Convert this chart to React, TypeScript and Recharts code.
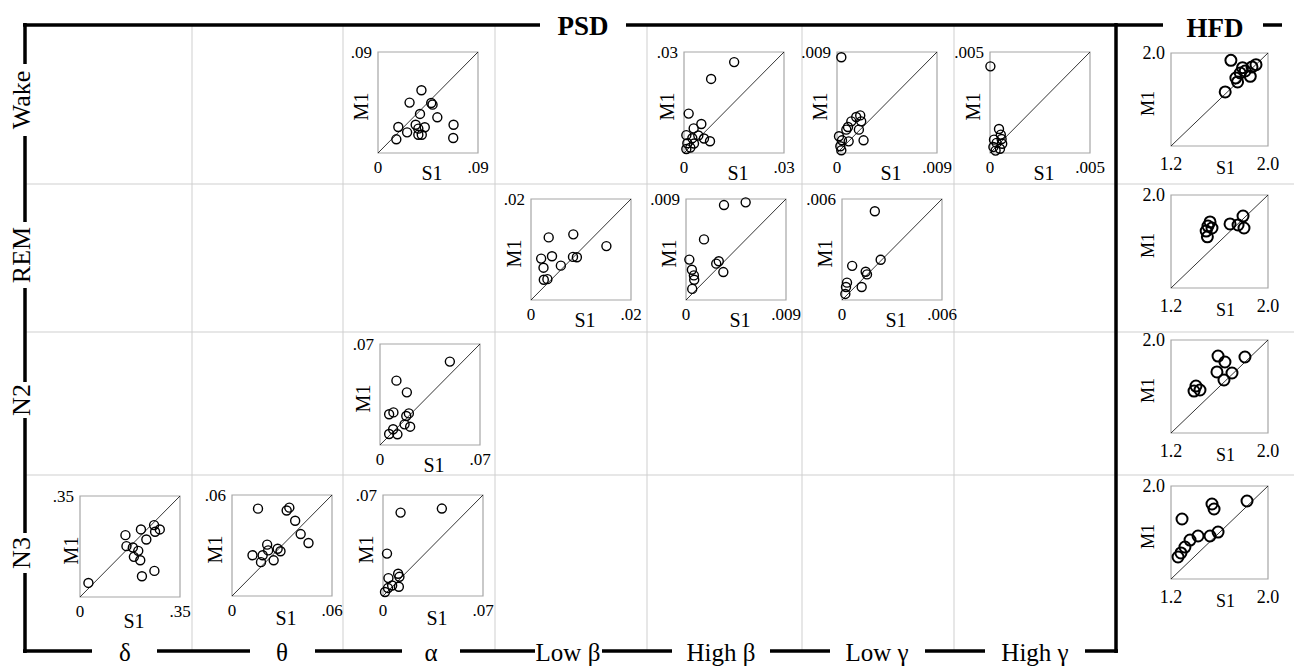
import { ScatterChart, Scatter, XAxis, YAxis, ReferenceArea, ReferenceLine } from 'recharts'

// each pair is [S1, M1]
const wakeAlpha = [[.0391, .0559], [.0284, .0449], [.0479, .0446], [.0491, .0431], [.0378, .0348], [.0534, .0318], [.0183, .0232], [.0339, .0252], [.0421, .0229], [.0363, .0217], [.0262, .0184], [.0363, .0163], [.0394, .0163], [.0680, .0252], [.0677, .0134], [.0165, .0122]]
const wakeHighBeta = [[.01505, .0270], [.00813, .0220], [.0014, .0117], [.0052, .0086], [.0029, .0073], [.0007, .0053], [.0025, .0044], [.0043, .0052], [.0060, .0043], [.0078, .0035], [.0010, .0029], [.0030, .0028], [.0019, .0016], [.0007, .0012]]
const wakeLowGamma = [[.00039, .00853], [.00173, .00321], [.00209, .00335], [.00218, .00282], [.00129, .00282], [.00099, .00232], [.00084, .00208], [.00197, .00208], [.00239, .00113], [.00105, .00104], [.00018, .00149], [.00045, .00113], [.0003, .0006], [.00039, .00024]]
const wakeHighGamma = [[.00002, .00429], [.00045, .00119], [.00054, .00091], [.0002, .00066], [.00058, .00069], [.00033, .0005], [.00061, .00046], [.00017, .0003], [.0005, .00021], [.00028, .00012]]
const wakeHfd = [[1.694, 1.937], [1.790, 1.874], [1.901, 1.900], [1.868, 1.880], [1.812, 1.845], [1.771, 1.828], [1.854, 1.799], [1.735, 1.785], [1.749, 1.751], [1.647, 1.665]]

const remLowBeta = [[.00354, .0124], [.00846, .0130], [.01508, .01067], [.00203, .0082], [.0042, .00867], [.0025, .0064], [.00597, .0068], [.0084, .00853], [.00918, .00847], [.00256, .004], [.00328, .00413]]
const remHighBeta = [[.00342, .00846], [.00537, .0087], [.00162, .0054], [.0003, .0036], [.00053, .0027], [.00071, .00219], [.00074, .0018], [.00056, .00099], [.00272, .00324], [.00295, .00345], [.00336, .00249]]
const remLowGamma = [[.00197, .00527], [.00232, .00239], [.00061, .00203], [.00142, .00168], [.0015, .00152], [.00118, .00077], [.0003, .00103], [.00024, .00077], [.0002, .00036]]
const remHfd = [[1.522, 1.768], [1.538, 1.716], [1.687, 1.751], [1.794, 1.819], [1.802, 1.716], [1.753, 1.742], [1.49, 1.690], [1.50, 1.640], [1.505, 1.733]]

const n2Alpha = [[.0489, .0578], [.0115, .0446], [.0188, .0365], [.0064, .0213], [.0094, .0226], [.0202, .0219], [.0184, .0201], [.0172, .0143], [.0211, .0127], [.0092, .0109], [.0064, .0076], [.0122, .0074]]
const n2Hfd = [[1.588, 1.862], [1.810, 1.854], [1.645, 1.811], [1.579, 1.725], [1.703, 1.716], [1.637, 1.656], [1.406, 1.604], [1.439, 1.570], [1.390, 1.561]]

const n3Delta = [[.0295, .0487], [.159, .2144], [.2133, .2341], [.2593, .2492], [.2793, .2341], [.2628, .226], [.2322, .1993], [.1626, .1762], [.185, .1715], [.2039, .1599], [.1886, .1391], [.2109, .1275], [.2168, .0719], [.2604, .0904]]
const n3Theta = [[.0156, .0519], [.0328, .0508], [.0344, .0525], [.0379, .0447], [.0412, .0368], [.0459, .0315], [.0211, .0305], [.0217, .0271], [.0274, .0281], [.0291, .0266], [.0123, .0242], [.0184, .0242], [.025, .0212], [.0174, .0201]]
const n3Alpha = [[.0123, .0578], [.0412, .0606], [.0028, .0294], [.0106, .0154], [.0115, .0133], [.0038, .0124], [.0064, .0073], [.0111, .0064], [.0035, .0055], [.0014, .0028]]
const n3Hfd = [[1.827, 1.871], [1.538, 1.845], [1.555, 1.802], [1.291, 1.716], [1.588, 1.604], [1.522, 1.570], [1.423, 1.570], [1.357, 1.535], [1.315, 1.475], [1.282, 1.424], [1.258, 1.389]]

const rowNames = ['Wake', 'REM', 'N2', 'N3']
const bandNames = ['δ', 'θ', 'α', 'Low β', 'High β', 'Low γ', 'High γ']

const SERIF = 'Liberation Serif, Times New Roman, serif'

// panel layout: box position in the page
const panels = [
  { pts: wakeAlpha, lo: 0, hi: 0.09, x: 378, y: 52 },
  { pts: wakeHighBeta, lo: 0, hi: 0.03, x: 684, y: 52 },
  { pts: wakeLowGamma, lo: 0, hi: 0.009, x: 837, y: 52 },
  { pts: wakeHighGamma, lo: 0, hi: 0.005, x: 990, y: 52 },
  { pts: wakeHfd, lo: 1.2, hi: 2.0, x: 1171, y: 53, hfd: true },
  { pts: remLowBeta, lo: 0, hi: 0.02, x: 531, y: 199 },
  { pts: remHighBeta, lo: 0, hi: 0.009, x: 686, y: 199 },
  { pts: remLowGamma, lo: 0, hi: 0.006, x: 842, y: 199 },
  { pts: remHfd, lo: 1.2, hi: 2.0, x: 1171, y: 195, hfd: true },
  { pts: n2Alpha, lo: 0, hi: 0.07, x: 380, y: 344 },
  { pts: n2Hfd, lo: 1.2, hi: 2.0, x: 1171, y: 340, hfd: true },
  { pts: n3Delta, lo: 0, hi: 0.35, x: 80, y: 496, m1dx: -9, s1dy: 4 },
  { pts: n3Theta, lo: 0, hi: 0.06, x: 232, y: 495, s1dy: 2 },
  { pts: n3Alpha, lo: 0, hi: 0.07, x: 383, y: 495, s1dy: 2 },
  { pts: n3Hfd, lo: 1.2, hi: 2.0, x: 1171, y: 486, hfd: true },
]

const colLines = [192, 343, 495, 647, 802, 954]
const rowLines = [184, 332, 475]
const rowLabelY = [100, 255, 400, 553]
const rowGaps = [[64, 136], [222, 288], [382, 418], [533, 573]]
const bandX = [125, 282, 431, 568, 721, 877, 1035]
const bandGaps = [[92, 157], [250, 315], [402, 460], [535, 602], [672, 770], [830, 925], [985, 1085]]

function segs(from: number, to: number, gaps: number[][]) {
  const out: number[][] = []
  let cur = from
  gaps.forEach(([a, b]) => { out.push([cur, a]); cur = b })
  out.push([cur, to])
  return out
}

function Panel({ pts, lo, hi, x, y, hfd, m1dx, s1dy }: any) {
  const w = hfd ? 97 : 100
  const h = hfd ? 93 : 101
  const padL = 48, padT = 14, padR = 26, padB = 38
  const fs = hfd ? 18 : 17
  const ls = hfd ? 18 : 20
  const data = pts.map(([s1, m1]: number[]) => ({ s1, m1 }))
  const fmt = (v: number) => hfd ? v.toFixed(1) : v === 0 ? '0' : String(v).replace(/^0/, '')
  const tick = { fill: '#000', fontSize: fs, fontFamily: SERIF }
  return (
    <div style={{ position: 'absolute', left: x - padL, top: y - padT }}>
      <ScatterChart width={w + padL + padR} height={h + padT + padB} margin={{ top: padT, right: padR, bottom: 0, left: 0 }}>
        <XAxis type="number" dataKey="s1" domain={[lo, hi]} ticks={[lo, hi]} interval={0} tickFormatter={fmt}
          axisLine={false} tickLine={false} height={padB} tick={tick} tickMargin={hfd ? 5 : 2}
          label={(p: any) => {
            const vb = p.viewBox
            return <text x={vb.x + vb.width / 2 + (hfd ? 6 : 4)} y={vb.y + (hfd ? 28 : 27) + (s1dy || 0)} textAnchor="middle" fontSize={ls} fontFamily={SERIF} fill="#000">S1</text>
          }} />
        <YAxis type="number" dataKey="m1" domain={[lo, hi]} ticks={[hi]} interval={0} tickFormatter={fmt}
          axisLine={false} tickLine={false} width={padL} tick={tick} tickMargin={0}
          label={(p: any) => {
            const vb = p.viewBox
            const cx = vb.x + vb.width + (m1dx || (hfd ? -23 : -17))
            const cy = vb.y + vb.height / 2 + 4
            return <text x={cx} y={cy} transform={`rotate(-90 ${cx} ${cy})`} textAnchor="middle" dominantBaseline="central" fontSize={ls} fontFamily={SERIF} fill="#000">M1</text>
          }} />
        <ReferenceArea x1={lo} x2={hi} y1={lo} y2={hi} fill="none" fillOpacity={0} stroke="#a6a6a6" strokeWidth={1.2} />
        <ReferenceLine segment={[{ x: lo, y: lo }, { x: hi, y: hi }]} stroke="#000" strokeWidth={0.8} />
        <Scatter data={data} isAnimationActive={false}
          shape={(p: any) => <circle cx={p.cx} cy={p.cy} r={hfd ? 5.5 : 4.5} fill="none" stroke="#000" strokeWidth={hfd ? 2 : 1.4} />} />
      </ScatterChart>
    </div>
  )
}

export default function App() {
  return (
    <div style={{ position: 'absolute', left: 0, top: 0, width: 1294, height: 667, background: '#fff', overflow: 'hidden', fontFamily: SERIF }}>
      <svg width={1294} height={667} style={{ position: 'absolute', left: 0, top: 0 }} fontFamily={SERIF}>
        {colLines.map(cx => <line key={cx} x1={cx} x2={cx} y1={25} y2={651} stroke="#cfcfcf" strokeWidth={1} />)}
        {rowLines.map(ry => <line key={ry} x1={25} x2={1294} y1={ry} y2={ry} stroke="#cfcfcf" strokeWidth={1} />)}
        {segs(23, 1116, [[540, 626]]).map(([a, b]) => <line key={'t' + a} x1={a} x2={b} y1={25} y2={25} stroke="#000" strokeWidth={3.5} />)}
        {segs(1116, 1282, [[1163, 1263]]).map(([a, b]) => <line key={'h' + a} x1={a} x2={b} y1={25} y2={25} stroke="#000" strokeWidth={3.5} />)}
        {segs(23, 653, rowGaps).map(([a, b]) => <line key={'l' + a} x1={25} x2={25} y1={a} y2={b} stroke="#000" strokeWidth={3.5} />)}
        {segs(23, 1118, bandGaps).map(([a, b]) => <line key={'b' + a} x1={a} x2={b} y1={651} y2={651} stroke="#000" strokeWidth={3.5} />)}
        <line x1={1116} x2={1116} y1={23} y2={653} stroke="#000" strokeWidth={3.5} />
        <text x={583} y={26} textAnchor="middle" dominantBaseline="central" fontSize={27} fontWeight="bold" fontFamily={SERIF}>PSD</text>
        <text x={1215} y={28} textAnchor="middle" dominantBaseline="central" fontSize={27} fontWeight="bold" fontFamily={SERIF}>HFD</text>
        {rowNames.map((r, i) => (
          <text key={r} x={21} y={rowLabelY[i]} transform={`rotate(-90 21 ${rowLabelY[i]})`} textAnchor="middle" dominantBaseline="central" fontSize={26} fontFamily={SERIF}>{r}</text>
        ))}
        {bandNames.map((b, i) => (
          <text key={b} x={bandX[i]} y={652} textAnchor="middle" dominantBaseline="central" fontSize={25} fontFamily={SERIF}>{b}</text>
        ))}
      </svg>
      {panels.map((p, i) => <Panel key={i} {...p} />)}
    </div>
  )
}
